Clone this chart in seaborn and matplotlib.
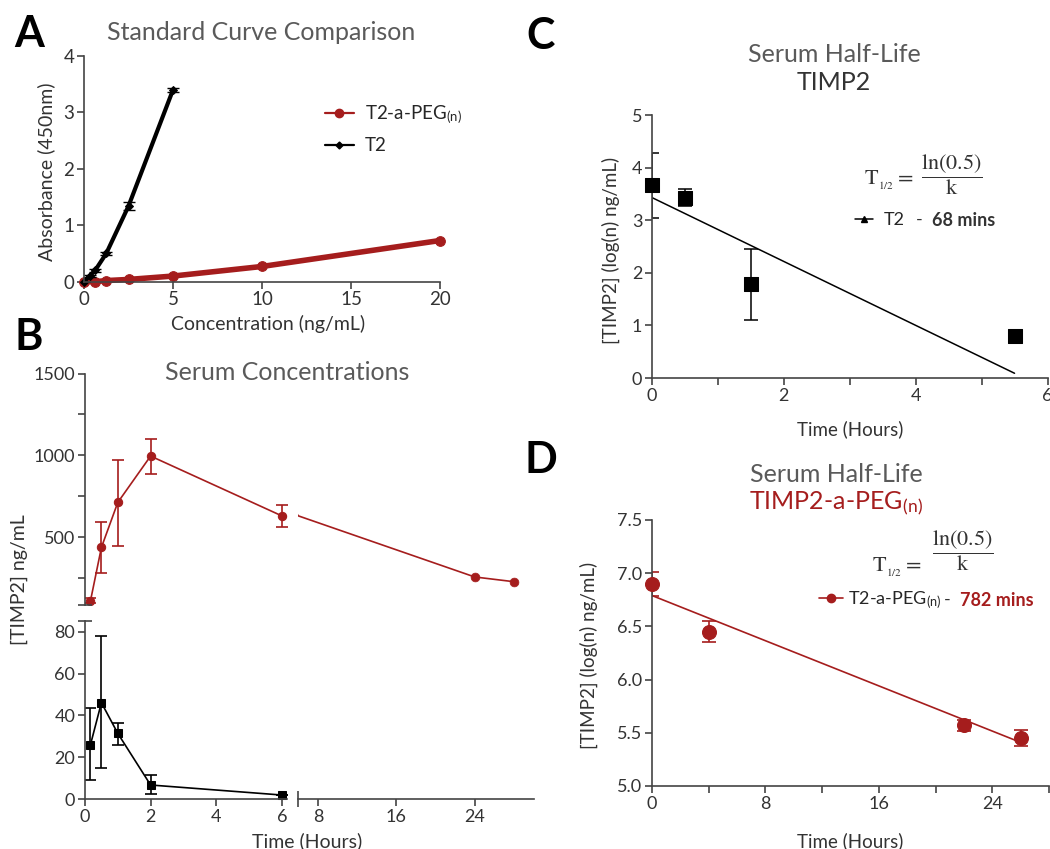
import numpy as np
import pandas as pd
import seaborn as sns
import matplotlib.pyplot as plt
from matplotlib.lines import Line2D
from matplotlib.ticker import FormatStrFormatter

sns.set_theme(style="ticks")
plt.rcParams['font.family'] = ['Lato', 'DejaVu Sans']
plt.rcParams['mathtext.fontset'] = 'stix'

## data
# A - standard curves
peg_conc = [0, 0.625, 1.25, 2.5, 5, 10, 20]
peg_abs = [0.0, 0.0, 0.02, 0.04, 0.1, 0.27, 0.73]
t2_conc = [0, 0.3125, 0.625, 1.25, 2.5, 5]
t2_abs = [0.0, 0.1, 0.2, 0.5, 1.34, 3.4]
t2_abs_err = [0.0, 0.02, 0.02, 0.03, 0.07, 0.03]

# B - serum concentrations
peg_time = [0.167, 0.5, 1, 2, 6, 24, 28]
peg_serum = [112, 438, 713, 996, 631, 258, 229]
peg_serum_lo = [15, 157, 264, 112, 67, 0, 0]
peg_serum_hi = [15, 156, 261, 107, 69, 0, 0]
t2_time = [0.167, 0.5, 1, 2, 6]
t2_serum = [26.0, 46.1, 31.4, 6.7, 1.9]
t2_serum_lo = [17.1, 31.5, 5.4, 4.5, 0]
t2_serum_hi = [17.6, 31.9, 5.2, 4.6, 0]

# C - half-life T2
c_time = [0, 0.5, 1.5, 5.5]
c_log = [3.66, 3.43, 1.78, 0.79]
c_err = [0.62, 0.16, 0.68, 0]
c_fit_x = [0, 5.5]
c_fit_y = [3.43, 0.09]

# D - half-life T2-a-PEG(n)
d_time = [0, 4, 22, 26]
d_log = [6.90, 6.45, 5.57, 5.45]
d_err = [0.11, 0.10, 0.05, 0.075]
d_fit_x = [0, 26]
d_fit_y = [6.79, 5.41]

RED = '#a51d1d'
GRAY = '#5a5a5a'
INK = '#333333'
W, H = 1050, 849
PEG_N = 'T2-a-PEG$_{\\mathregular{(n)}}$'

fig = plt.figure(figsize=(W / 100, H / 100), dpi=100)


def ax_px(x0, x1, y0, y1):
    return fig.add_axes([x0 / W, 1 - y1 / H, (x1 - x0) / W, (y1 - y0) / H])


def ftxt(x, y, s, **kw):
    kw.setdefault('ha', 'center')
    kw.setdefault('va', 'center')
    return fig.text(x / W, 1 - y / H, s, **kw)


def style(ax, size=13, left=True, bottom=True):
    sns.despine(ax=ax, left=not left, bottom=not bottom)
    for s in ['left', 'bottom']:
        ax.spines[s].set_linewidth(1.2)
        ax.spines[s].set_color('#444444')
    ax.tick_params(which='both', length=5, width=1.2, color='#444444',
                   labelsize=size, labelcolor=INK, pad=2)
    ax.set_xlabel('')
    ax.set_ylabel('')
    ax.grid(False)


## A
axA = ax_px(84, 440, 56, 281.7)
sns.lineplot(x=peg_conc, y=peg_abs, ax=axA, color=RED, lw=4, marker='o',
             ms=7, mec=RED, clip_on=False)
sns.lineplot(x=t2_conc, y=t2_abs, ax=axA, color='black', lw=3, marker='D',
             ms=4, mec='black', clip_on=False)
axA.errorbar(t2_conc, t2_abs, yerr=t2_abs_err, fmt='none', ecolor='black',
             elinewidth=1.2, capsize=4)
axA.set_xlim(0, 20)
axA.set_ylim(0, 4)
axA.set_xticks([0, 5, 10, 15, 20])
axA.set_yticks([0, 1, 2, 3, 4])
style(axA, size=13.5)
axA.legend(handles=[Line2D([], [], color=RED, lw=1.6, marker='o', ms=6),
                    Line2D([], [], color='black', lw=1.6, marker='D', ms=3.5)],
           labels=[PEG_N, 'T2'], loc='upper left',
           bbox_to_anchor=((316 - 84) / 356, (281.7 - 94) / 225.7),
           frameon=False, fontsize=13.5, handlelength=1.5, handletextpad=0.6,
           labelspacing=0.6, borderpad=0)
ftxt(261, 32, 'Standard Curve Comparison', fontsize=18, color=GRAY)
ftxt(268, 324, 'Concentration (ng/mL)', fontsize=14, color=INK)
ftxt(46, 172, 'Absorbance (450nm)', fontsize=14, color=INK, rotation=90)

## B - broken axes
top_lim = (85, 1500)
bot_lim = (0, 85)
bTL = ax_px(85, 286.7, 373.5, 605.3)
bBL = ax_px(85, 286.7, 621.4, 799)
bTR = ax_px(298.3, 533.5, 373.5, 605.3)
bBR = ax_px(298.3, 533.5, 621.4, 799)

sns.lineplot(x=peg_time, y=peg_serum, ax=bTL, color=RED, lw=1.2, marker='o',
             ms=6, mec=RED)
bTL.errorbar(peg_time, peg_serum, yerr=[peg_serum_lo, peg_serum_hi], fmt='none',
             ecolor=RED, elinewidth=1.2, capsize=4, capthick=1.2)
# right segment: the line continues, markers only for later time points
late = [i for i, t in enumerate(peg_time) if t > 6]
sns.lineplot(x=peg_time, y=peg_serum, ax=bTR, color=RED, lw=1.2)
sns.scatterplot(x=[peg_time[i] for i in late], y=[peg_serum[i] for i in late],
                ax=bTR, color=RED, edgecolor=RED, s=40, zorder=3)
for ax in (bTL, bTR):
    ax.set_ylim(*top_lim)

sns.lineplot(x=t2_time, y=t2_serum, ax=bBL, color='black', lw=1.2, marker='s',
             ms=6, mec='black', clip_on=False)
bBL.errorbar(t2_time, t2_serum, yerr=[t2_serum_lo, t2_serum_hi], fmt='none',
             ecolor='black', elinewidth=1.2, capsize=4, capthick=1.2)
bBL.set_ylim(*bot_lim)
bBR.set_ylim(*bot_lim)

for ax in (bTL, bBL):
    ax.set_xlim(0, 6.15)
for ax in (bTR, bBR):
    ax.set_xlim(6, 30)

style(bTL, left=True, bottom=False)
bTL.set_xticks([])
bTL.set_yticks([500, 1000, 1500])
bTL.set_yticks([250, 750, 1250], minor=True)
bTL.plot([0], [top_lim[0]], marker='_', ms=10, mew=1.2, color='#444444', clip_on=False)

style(bBL)
bBL.set_xticks([0, 2, 4, 6])
bBL.set_yticks([0, 20, 40, 60, 80])
bBL.plot([0], [bot_lim[1]], marker='_', ms=10, mew=1.2, color='#444444', clip_on=False)

style(bTR, left=False, bottom=False)
bTR.set_xticks([])
bTR.set_yticks([])

style(bBR, left=False, bottom=True)
bBR.set_yticks([])
bBR.set_xticks([8, 16, 24])
bBR.plot([6], [0], marker='|', ms=12, mew=1.2, color='#444444', clip_on=False)

ftxt(287, 373, 'Serum Concentrations', fontsize=18, color=GRAY)
ftxt(307, 841, 'Time (Hours)', fontsize=14, color=INK)
ftxt(19, 580, '[TIMP2] ng/mL', fontsize=14, color=INK, rotation=90)

## C
axC = ax_px(652, 1047.5, 115, 378)
axC.plot(c_fit_x, c_fit_y, color='black', lw=1.1)
axC.errorbar(c_time, c_log, yerr=c_err, fmt='none', ecolor='black',
             elinewidth=1.1, capsize=5, capthick=1.1)
sns.scatterplot(x=c_time, y=c_log, ax=axC, marker='s', s=90, color='black',
                edgecolor='black', clip_on=False, zorder=3)
axC.set_xlim(0, 6)
axC.set_ylim(0, 5)
axC.set_xticks([0, 2, 4, 6])
axC.set_xticks([1, 3, 5], minor=True)
axC.set_yticks([0, 1, 2, 3, 4, 5])
style(axC, size=13)
ftxt(834, 54, 'Serum Half-Life', fontsize=18, color=GRAY)
ftxt(834, 83, 'TIMP2', fontsize=18, color=INK)
ftxt(850, 429, 'Time (Hours)', fontsize=13.5, color=INK)
ftxt(611, 250, '[TIMP2] (log(n) ng/mL)', fontsize=13.5, color=INK, rotation=90)
ftxt(864, 180, r'$\mathrm{T}_{_{1/2}}=$', fontsize=16, color=INK, ha='left')
ftxt(952, 175, r'$\dfrac{\mathrm{ln(0.5)}}{\mathrm{k}}$', fontsize=16, color=INK)
axC.legend(handles=[Line2D([], [], color='black', lw=1.1, marker='^', ms=4)],
           labels=['T2'], loc='center left',
           bbox_to_anchor=((846 - 652) / 395.5, (378 - 220) / 263),
           frameon=False, fontsize=13, handlelength=1.0, handletextpad=0.6,
           borderpad=0)
ftxt(919, 220, '-', fontsize=13, color=INK)
ftxt(932, 220, '68 mins', fontsize=13, color=INK, weight='bold', ha='left')

## D
axD = ax_px(652, 1049, 520, 786)
axD.plot(d_fit_x, d_fit_y, color=RED, lw=1.2)
axD.errorbar(d_time, d_log, yerr=d_err, fmt='none', ecolor=RED,
             elinewidth=1.2, capsize=5, capthick=1.2)
sns.scatterplot(x=d_time, y=d_log, ax=axD, marker='o', s=100, color=RED,
                edgecolor=RED, clip_on=False, zorder=3)
axD.set_xlim(0, 28)
axD.set_ylim(5, 7.5)
axD.set_xticks([0, 8, 16, 24])
axD.set_xticks([4, 12, 20, 28], minor=True)
axD.set_yticks([5.0, 5.5, 6.0, 6.5, 7.0, 7.5])
axD.yaxis.set_major_formatter(FormatStrFormatter('%.1f'))
style(axD, size=13)
ftxt(836, 474, 'Serum Half-Life', fontsize=18, color=GRAY)
ftxt(836, 503, 'TIMP2-a-PEG$_{\\mathregular{(n)}}$', fontsize=18, color=RED)
ftxt(850, 841, 'Time (Hours)', fontsize=13.5, color=INK)
ftxt(589, 655, '[TIMP2] (log(n) ng/mL)', fontsize=13.5, color=INK, rotation=90)
ftxt(872, 567, r'$\mathrm{T}_{_{1/2}}=$', fontsize=16, color=INK, ha='left')
ftxt(963, 551, r'$\dfrac{\mathrm{ln(0.5)}}{\mathrm{k}}$', fontsize=16, color=INK)
axD.legend(handles=[Line2D([], [], color=RED, lw=1.2, marker='o', ms=6)],
           labels=[PEG_N], loc='center left',
           bbox_to_anchor=((810 - 652) / 397, (786 - 600) / 266),
           frameon=False, fontsize=13, handlelength=1.3, handletextpad=0.3,
           borderpad=0)
ftxt(947, 600, '-', fontsize=13, color=INK)
ftxt(960, 600, '782 mins', fontsize=13, color=RED, weight='bold', ha='left')

## panel letters
for letter, (x, y) in {'A': (29, 34), 'B': (29, 337), 'C': (541, 36), 'D': (541, 460)}.items():
    ftxt(x, y, letter, fontsize=31, weight='bold', color='black')

fig.savefig('out.png', dpi=100)
